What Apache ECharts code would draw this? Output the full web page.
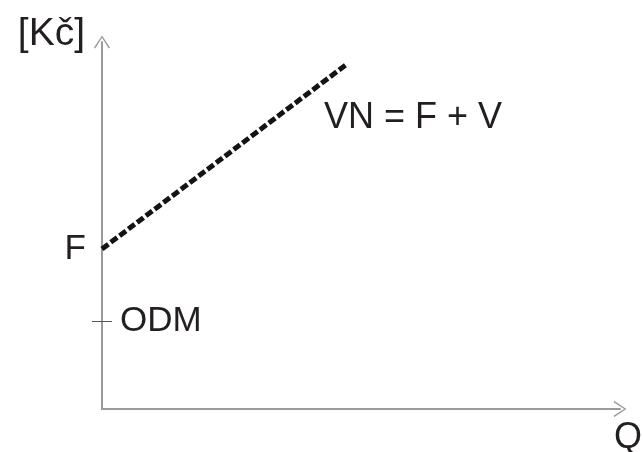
<!DOCTYPE html>
<html>
<head>
<meta charset="utf-8">
<script src="https://cdn.jsdelivr.net/npm/echarts@6/dist/echarts.min.js"></script>
<style>
  html, body { margin: 0; padding: 0; background: #fff; }
  #chart { width: 643px; height: 452px; }
</style>
</head>
<body>
<div id="chart"></div>
<script>
// hodnoty (osa Q i Kč v rozsahu 0-10)
var axisRange = [0, 10];
var costLineQ = [0, 4.73];       // Q
var costLineKc = [4.36, 9.40];   // VN = F + V
var fixedCost = 4.36;            // F
var odmValue = 2.40;             // ODM
var lineLabel = 'VN = F + V';

var textColor = '#231f20';
var axisColor = '#9a9a9a';
var font = 'Liberation Sans, Arial, sans-serif';
// otevřená šipka (chevron) na konci os
var chevron = 'path://M8,0 L16,12 L14.8,12.9 L8,2.3 L1.2,12.9 L0,12 Z';

var lineData = costLineQ.map(function (q, i) { return [q, costLineKc[i]]; });

var myChart = echarts.init(document.getElementById('chart'));
myChart.setOption({
  animation: false,
  grid: { left: 102, right: 23, top: 42, bottom: 43, containLabel: false, outerBoundsMode: 'none' },
  xAxis: {
    type: 'value',
    min: axisRange[0],
    max: axisRange[1],
    name: 'Q',
    nameLocation: 'end',
    nameGap: -6,
    nameTextStyle: { fontSize: 36, color: textColor, fontFamily: font, verticalAlign: 'top', padding: [11, 0, 0, 0] },
    axisLine: {
      show: true,
      symbol: ['none', chevron],
      symbolSize: [16, 13],
      lineStyle: { color: axisColor, width: 2 }
    },
    axisTick: { show: false },
    axisLabel: { show: false },
    splitLine: { show: false }
  },
  yAxis: [
    {
      type: 'value',
      position: 'left',
      min: axisRange[0],
      max: axisRange[1],
      name: '[Kč]',
      nameLocation: 'end',
      nameGap: 8,
      nameTextStyle: { fontSize: 39, color: textColor, fontFamily: font, align: 'right', verticalAlign: 'middle', padding: [0, 17, 0, 0] },
      axisLine: {
        show: true,
        symbol: ['none', chevron],
        symbolSize: [16, 13],
        lineStyle: { color: axisColor, width: 2 }
      },
      axisTick: {
        show: true,
        customValues: [odmValue],
        length: 10,
        lineStyle: { color: '#555', width: 1 }
      },
      axisLabel: {
        show: true,
        customValues: [fixedCost],
        formatter: function () { return 'F'; },
        margin: 16,
        fontSize: 35,
        color: textColor,
        fontFamily: font
      },
      splitLine: { show: false }
    },
    {
      type: 'value',
      position: 'left',
      min: axisRange[0],
      max: axisRange[1],
      axisLine: { show: false },
      axisTick: {
        show: true,
        inside: true,
        customValues: [odmValue],
        length: 10,
        lineStyle: { color: '#555', width: 1 }
      },
      axisLabel: {
        show: true,
        inside: true,
        customValues: [odmValue],
        formatter: function () { return 'ODM'; },
        margin: 18,
        fontSize: 35,
        color: textColor,
        fontFamily: font
      },
      splitLine: { show: false }
    }
  ],
  series: [
    {
      type: 'line',
      data: lineData,
      symbol: 'none',
      lineStyle: { color: '#141414', width: 5, type: [8, 3], cap: 'butt' },
      endLabel: {
        show: true,
        formatter: lineLabel,
        offset: [-31, 54],
        fontSize: 36,
        color: textColor,
        fontFamily: font
      }
    }
  ]
});
</script>
</body>
</html>
